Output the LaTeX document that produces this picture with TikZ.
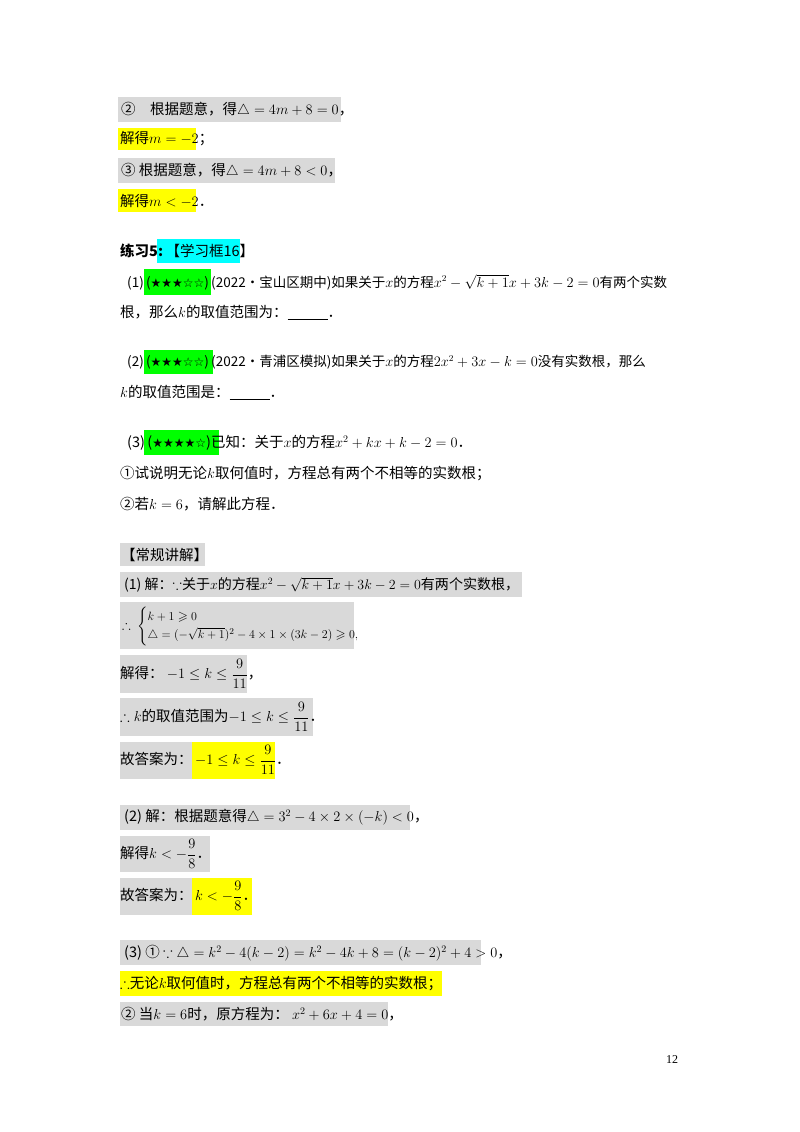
\documentclass[tikz,border=0pt]{standalone}
\usepackage{amsmath,amssymb}
\usepackage{fontspec}
\setmainfont{Noto Sans CJK SC}
\newfontfamily\tms{Liberation Serif}
\newfontfamily\sym{DejaVu Sans}
\definecolor{gbg}{HTML}{D9D9D9}
\definecolor{ybg}{HTML}{FFFF00}
\definecolor{cbg}{HTML}{00FFFF}
\definecolor{gnbg}{HTML}{00FF00}
\newcommand{\stars}[1]{{\sym\fontsize{12}{13}\selectfont #1}}
\begin{document}
\begin{tikzpicture}[x=1pt,y=-1pt,
  gray/.style={fill=gbg,draw=none},
  yel/.style={fill=ybg,draw=none},
  cy/.style={fill=cbg,draw=none},
  grn/.style={fill=gnbg,draw=none},
  t/.style={anchor=west,inner sep=0pt,font=\fontsize{14.5}{17}\selectfont},
  tq/.style={anchor=west,inner sep=0pt,font=\fontsize{13.5}{16}\selectfont}]
\useasboundingbox (0,0) rectangle (800,1132);
\fill[white] (0,0) rectangle (800,1132);
% backgrounds
\fill[gray] (118,97) rectangle (341,122);
\fill[yel] (118,128) rectangle (196,150);
\fill[gray] (118,158) rectangle (335,183);
\fill[yel] (118,189) rectangle (196,212);
\fill[cy] (157,239) rectangle (240,263);
\fill[grn] (144,269) rectangle (211,295);
\fill[grn] (144,350) rectangle (213,374);
\fill[grn] (144,430) rectangle (219,455);
\fill[gray] (120,543) rectangle (205,566);
\fill[gray] (120,572) rectangle (522,597);
\fill[gray] (120,602) rectangle (354,649);
\fill[gray] (120,655) rectangle (247,693);
\fill[gray] (120,698) rectangle (313,736);
\fill[gray] (120,742) rectangle (192,779);
\fill[yel] (192,742) rectangle (275,779);
\fill[gray] (120,805) rectangle (410,830);
\fill[gray] (120,836) rectangle (210,872);
\fill[gray] (120,878) rectangle (192,915);
\fill[yel] (192,878) rectangle (252,915);
\fill[gray] (120,940) rectangle (481,965);
\fill[yel] (120,971) rectangle (442,996);
\fill[gray] (120,1002) rectangle (388,1026);
% texts
\node[t] (a1) at (121,110) {②\quad 根据题意，得$\triangle=4m+8=0$，};
\node[t] (a2) at (120,139) {解得$m=-2$；};
\node[t] (a3) at (121,171) {③\ 根据题意，得$\triangle=4m+8<0$，};
\node[t] (a4) at (120,201) {解得$m<-2$．};
\node[t] (p5) at (120,251) {\textbf{练习5:}\,【学习框16】};
\node[tq] (q1) at (127,282) {(1)\,(\stars{★★★☆☆})\,(2022•宝山区期中)如果关于$x$的方程$x^2-\sqrt{k+1}x+3k-2=0$有两个实数};
\node[t] (q1b) at (120,313) {根，那么$k$的取值范围为：\underline{\hspace{40pt}}．};
\node[tq] (q2) at (127,362) {(2)\,(\stars{★★★☆☆})\,(2022•青浦区模拟)如果关于$x$的方程$2x^2+3x-k=0$没有实数根，那么};
\node[t] (q2b) at (120,393) {$k$的取值范围是：\underline{\hspace{40pt}}．};
\node[t] (q3) at (127,443) {(3)\,(\stars{★★★★☆})已知：关于$x$的方程$x^2+kx+k-2=0$．};
\node[t] (q3a) at (120,474) {①试说明无论$k$取何值时，方程总有两个不相等的实数根；};
\node[t] (q3b) at (120,504) {②若$k=6$，请解此方程．};
\node[t] (h) at (121,555) {【常规讲解】};
\node[t] (s1) at (124,585) {\resizebox{395pt}{!}{(1) 解：$\because$关于$x$的方程$x^2-\sqrt{k+1}x+3k-2=0$有两个实数根，}};
\node[t,font=\fontsize{13}{15}\selectfont] (s2) at (122,626) {$\therefore\ \begin{cases}k+1\geqslant0\\ \triangle=(-\sqrt{k+1})^2-4\times1\times(3k-2)\geqslant0,\end{cases}$};
\node[t] (s3) at (120,674) {解得：\ $-1\le k\le\dfrac{9}{11}$，};
\node[t] (s4) at (120,717) {$\therefore k$的取值范围为$-1\le k\le\dfrac{9}{11}$．};
\node[t] (s5) at (120,760) {故答案为：\,$-1\le k\le\dfrac{9}{11}$．};
\node[t] (t1) at (124,817) {(2) 解：根据题意得$\triangle=3^2-4\times2\times(-k)<0$，};
\node[t] (t2) at (120,854) {解得$k<-\dfrac{9}{8}$．};
\node[t] (t3) at (120,896) {故答案为：\,$k<-\dfrac{9}{8}$．};
\node[t] (u1) at (124,953) {(3) ①\ $\because\triangle=k^2-4(k-2)=k^2-4k+8=(k-2)^2+4>0$，};
\node[t] (u2) at (120,984) {$\therefore$无论$k$取何值时，方程总有两个不相等的实数根；};
\node[t] (u3) at (121,1014) {②\ 当$k=6$时，原方程为：\ $x^2+6x+4=0$，};
\node[t,font=\tms\fontsize{12}{14}\selectfont] (pg) at (666,1060) {12};
\end{tikzpicture}
\end{document}
